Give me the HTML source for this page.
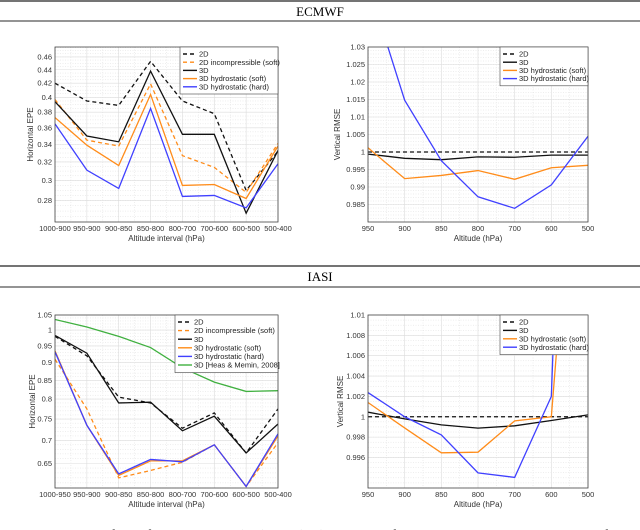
<!DOCTYPE html>
<html><head><meta charset="utf-8">
<style>
body{margin:0;background:#fff;width:640px;height:530px;overflow:hidden;position:relative;font-family:"Liberation Sans",sans-serif;}
svg{position:absolute;left:0;top:0}
</style></head>
<body>
<svg id="fig" width="640" height="530" xmlns="http://www.w3.org/2000/svg">
<line x1="0" y1="1" x2="640" y2="1" stroke="#222" stroke-width="1.2"/>
<text x="320" y="16" text-anchor="middle" font-family="Liberation Serif,serif" font-size="13">ECMWF</text>
<line x1="0" y1="21" x2="640" y2="21" stroke="#555" stroke-width="1.2"/>
<line x1="0" y1="266" x2="640" y2="266" stroke="#222" stroke-width="1.2"/>
<text x="320" y="281" text-anchor="middle" font-family="Liberation Serif,serif" font-size="13">IASI</text>
<line x1="0" y1="287" x2="640" y2="287" stroke="#555" stroke-width="1.2"/>
<text x="25" y="540" font-family="Liberation Serif,serif" font-style="italic" font-size="15">Fig. 5.1 – Profiles of error criteria (5.1) and (5.2) computed for the successive analyzed states of the</text>
</svg>
<script>
// ---- data ----
const catA = ["1000-900","950-900","900-850","850-800","800-700","700-600","600-500","500-400"];
const catB = ["950","900","850","800","700","600","500"];
const catC = ["1000-950","950-900","900-850","850-800","800-700","700-600","600-500","500-400"];
const ticksA = [0.28,0.3,0.32,0.34,0.36,0.38,0.4,0.42,0.44,0.46];
const ticksB = [0.985,0.99,0.995,1,1.005,1.01,1.015,1.02,1.025,1.03];
const ticksC = [0.65,0.7,0.75,0.8,0.85,0.9,0.95,1,1.05];
const ticksD = [0.996,0.998,1,1.002,1.004,1.006,1.008,1.01];
const tlA = ["0.28","0.3","0.32","0.34","0.36","0.38","0.4","0.42","0.44","0.46"];
const tlB = ["0.985","0.99","0.995","1","1.005","1.01","1.015","1.02","1.025","1.03"];
const tlC = ["0.65","0.7","0.75","0.8","0.85","0.9","0.95","1","1.05"];
const tlD = ["0.996","0.998","1","1.002","1.004","1.006","1.008","1.01"];
// ECMWF horizontal EPE
const a2D = [0.42,0.395,0.389,0.453,0.395,0.378,0.29,0.332];
const a2Dinc = [0.397,0.345,0.338,0.419,0.327,0.314,0.288,0.341];
const a3D = [0.394,0.350,0.343,0.438,0.352,0.352,0.268,0.333];
const a3Dsoft = [0.373,0.339,0.316,0.404,0.295,0.296,0.282,0.338];
const a3Dhard = [0.365,0.311,0.292,0.385,0.284,0.285,0.273,0.318];
// ECMWF vertical RMSE
const b2D = [1,1,1,1,1,1,1];
const b3D = [0.9994,0.9982,0.9978,0.9986,0.9985,0.9991,0.9991];
const b3Dsoft = [1.0012,0.9924,0.9933,0.9947,0.9922,0.9955,0.9962];
const b3Dhard = [1.048,1.0148,0.9975,0.9872,0.9839,0.9906,1.0045];
// IASI horizontal EPE
const c2D = [0.98,0.92,0.805,0.79,0.728,0.765,0.672,0.775];
const c2Dinc = [0.91,0.775,0.62,0.635,0.652,0.69,0.603,0.695];
const c3D = [0.983,0.928,0.79,0.792,0.722,0.757,0.672,0.738];
const c3Dsoft = [0.935,0.735,0.625,0.655,0.655,0.69,0.603,0.71];
const c3Dhard = [0.932,0.735,0.628,0.658,0.653,0.69,0.603,0.715];
const c3DHM = [1.035,1.01,0.98,0.945,0.885,0.845,0.82,0.822];
// IASI vertical RMSE
const d2D = [1,1,1,1,1,1,1];
const d3D = [1.00045,0.99979,0.9992,0.99888,0.99911,0.99963,1.00019];
const d3Dsoft = [1.0014,0.9989,0.99646,0.99652,0.9996,1.0,1.045];
const d3Dhard = [1.00238,1.0,0.99822,0.99449,0.99404,1.00199,1.10];

const NS="http://www.w3.org/2000/svg";
const svg=document.getElementById('fig');
function mk(tag,attrs,parent){const e=document.createElementNS(NS,tag);for(const k in attrs)e.setAttribute(k,attrs[k]);(parent||svg).appendChild(e);return e;}

function chart(o){
  const g=mk('g',{});
  
  
  const L=o.x0,R=o.x1,T=o.y0,B=o.y1;
  const f=o.log?Math.log:(v=>v);
  const ymap=v=>B-(f(v)-f(o.ymin))/(f(o.ymax)-f(o.ymin))*(B-T);
  const n=o.cats.length;
  const xmap=i=>L+i*(R-L)/(n-1);
  const cid='clip'+o.name;
  const cp=mk('clipPath',{id:cid},g);mk('rect',{x:L,y:T,width:R-L,height:B-T},cp);
  for(let v=o.minorStart;v<o.ymax;v+=o.minor){const y=ymap(v);if(y<T||y>B)continue;
    mk('line',{x1:L,x2:R,y1:y,y2:y,stroke:'#ddd','stroke-width':0.5,'stroke-dasharray':'1,1.5'},g);}
  for(let i=0;i<n-1;i++){const x=(xmap(i)+xmap(i+1))/2;
    mk('line',{x1:x,x2:x,y1:T,y2:B,stroke:'#ddd','stroke-width':0.5,'stroke-dasharray':'1,1.5'},g);}
  o.ticks.forEach((v,i)=>{const y=ymap(v);
    const gl=mk('line',{x1:L,x2:R,y1:y,y2:y,stroke:'#dcdcdc','stroke-width':0.6},g);
    
    
    const t=mk('text',{x:L-3,y:y+2.5,'text-anchor':'end','font-size':7.5,fill:'#333'},g);t.textContent=o.tl[i];
    
    
  });
  o.cats.forEach((c,i)=>{const x=xmap(i);
    mk('line',{x1:x,x2:x,y1:T,y2:B,stroke:'#dcdcdc','stroke-width':0.6},g);
    const t=mk('text',{x:x,y:B+9,'text-anchor':'middle','font-size':7.5,fill:'#333'},g);t.textContent=c;
    
    
  });
  const sg=mk('g',{'clip-path':'url(#'+cid+')'},g);
  o.series.forEach(s=>{
    const pts=s.data.map((v,i)=>xmap(i).toFixed(2)+','+ymap(v).toFixed(2)).join(' ');
    const p=mk('polyline',{points:pts,fill:'none',stroke:s.c,'stroke-width':1.3,'stroke-dasharray':s.d?'4,3':'none'},sg);
    
    
  });
  const box=mk('rect',{x:L,y:T,width:R-L,height:B-T,fill:'none',stroke:'#444','stroke-width':0.8},g);
  
  
  const xl=mk('text',{x:(L+R)/2,y:B+19,'text-anchor':'middle','font-size':8,fill:'#333'},g);xl.textContent=o.xlabel;
  
  
  const yl=mk('text',{x:0,y:0,'text-anchor':'middle','font-size':8,fill:'#333',transform:`translate(${o.ylx},${(T+B)/2}) rotate(-90)`},g);yl.textContent=o.ylabel;
  
  
  const lg=mk('g',{},g);
  
  
  const lh=o.series.length*o.lstep+6;
  mk('rect',{x:o.lx,y:T,width:R-o.lx,height:lh,fill:'#fff',stroke:'#444','stroke-width':0.6},lg);
  o.series.forEach((s,i)=>{const y=T+7+i*o.lstep;
    mk('line',{x1:o.lx+3,x2:o.lx+17,y1:y,y2:y,stroke:s.c,'stroke-width':1.4,'stroke-dasharray':s.d?'4,3':'none'},lg);
    const t=mk('text',{x:o.lx+19,y:y+2.6,'font-size':7.5,fill:'#222'},lg);t.textContent=s.label;
    
    
  });
}
const K='#111',O='#ff8c1a',Bl='#4040ff',G='#40b040';
chart({name:'ecmwf-epe',x0:55,x1:278,y0:47,y1:222,log:true,ymin:0.26,ymax:0.476,ticks:ticksA,tl:tlA,minor:0.005,minorStart:0.26,cats:catA,
  xlabel:'Altitude interval (hPa)',ylabel:'Horizontal EPE',ylx:33,lx:180,lstep:8.2,
  series:[{id:'2d',data:a2D,c:K,d:1,label:'2D'},{id:'2d-incompressible',data:a2Dinc,c:O,d:1,label:'2D incompressible (soft)'},
  {id:'3d',data:a3D,c:K,label:'3D'},{id:'3d-hydrostatic-soft',data:a3Dsoft,c:O,label:'3D hydrostatic (soft)'},{id:'3d-hydrostatic-hard',data:a3Dhard,c:Bl,label:'3D hydrostatic (hard)'}]});
chart({name:'ecmwf-rmse',x0:368,x1:588,y0:47,y1:222,log:false,ymin:0.98,ymax:1.03,ticks:ticksB,tl:tlB,minor:0.001,minorStart:0.98,cats:catB,
  xlabel:'Altitude (hPa)',ylabel:'Vertical RMSE',ylx:340,lx:500,lstep:8.2,
  series:[{id:'2d',data:b2D,c:K,d:1,label:'2D'},{id:'3d',data:b3D,c:K,label:'3D'},{id:'3d-hydrostatic-soft',data:b3Dsoft,c:O,label:'3D hydrostatic (soft)'},{id:'3d-hydrostatic-hard',data:b3Dhard,c:Bl,label:'3D hydrostatic (hard)'}]});
chart({name:'iasi-epe',x0:55,x1:278,y0:315,y1:488,log:true,ymin:0.60,ymax:1.05,ticks:ticksC,tl:tlC,minor:0.01,minorStart:0.6,cats:catC,
  xlabel:'Altitude interval (hPa)',ylabel:'Horizontal EPE',ylx:35,lx:175,lstep:8.6,
  series:[{id:'2d',data:c2D,c:K,d:1,label:'2D'},{id:'2d-incompressible',data:c2Dinc,c:O,d:1,label:'2D incompressible (soft)'},
  {id:'3d',data:c3D,c:K,label:'3D'},{id:'3d-hydrostatic-soft',data:c3Dsoft,c:O,label:'3D hydrostatic (soft)'},{id:'3d-hydrostatic-hard',data:c3Dhard,c:Bl,label:'3D hydrostatic (hard)'},{id:'3d-heas-memin',data:c3DHM,c:G,label:'3D [Heas & Memin, 2008]'}]});
chart({name:'iasi-rmse',x0:368,x1:588,y0:315,y1:488,log:false,ymin:0.993,ymax:1.01,ticks:ticksD,tl:tlD,minor:0.0005,minorStart:0.993,cats:catB,
  xlabel:'Altitude (hPa)',ylabel:'Vertical RMSE',ylx:343,lx:500,lstep:8.4,
  series:[{id:'2d',data:d2D,c:K,d:1,label:'2D'},{id:'3d',data:d3D,c:K,label:'3D'},{id:'3d-hydrostatic-soft',data:d3Dsoft,c:O,label:'3D hydrostatic (soft)'},{id:'3d-hydrostatic-hard',data:d3Dhard,c:Bl,label:'3D hydrostatic (hard)'}]});
</script>
</body></html>
